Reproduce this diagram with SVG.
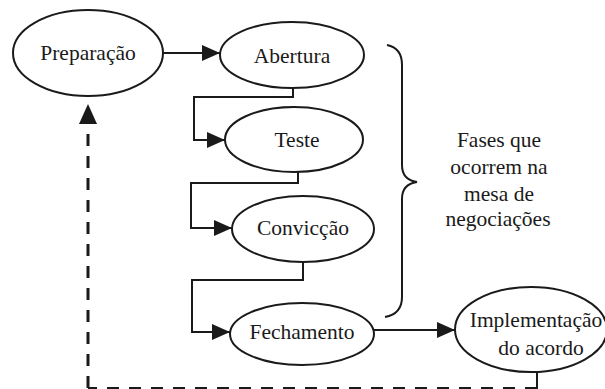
<svg xmlns="http://www.w3.org/2000/svg" width="605" height="389" viewBox="0 0 605 389">
  <style>
    .node ellipse { fill: #ffffff; stroke: #1a1a1a; stroke-width: 2; }
    .label { font-family: "Liberation Serif", "DejaVu Serif", "Times New Roman", serif; font-size: 21.5px; fill: #1a1a1a; text-anchor: middle; }
    .edge { fill: none; stroke: #1a1a1a; stroke-width: 2; }
    .dashed { fill: none; stroke: #1a1a1a; stroke-width: 3; stroke-dasharray: 12 10; }
  </style>
  <defs>
    <marker id="arrow" viewBox="0 0 18 16" refX="18" refY="8" markerWidth="18" markerHeight="16" markerUnits="userSpaceOnUse" orient="auto">
      <path d="M0,0 L18,8 L0,16 Z" fill="#1a1a1a"/>
    </marker>
  </defs>
  <rect width="605" height="389" fill="#ffffff"/>

  <g id="connectors">
    <path class="edge" d="M162,53 H220" marker-end="url(#arrow)"/>
    <path class="edge" d="M293,88 V97 H194 V140 H225" marker-end="url(#arrow)"/>
    <path class="edge" d="M298,172 V183 H191 V228 H232" marker-end="url(#arrow)"/>
    <path class="edge" d="M303,262 V280 H192 V332 H230" marker-end="url(#arrow)"/>
    <path class="edge" d="M374,330 H455" marker-end="url(#arrow)"/>
    <path class="edge" d="M537,372 V389"/>
    <path class="dashed" d="M537,388.5 H88"/>
    <path class="dashed" d="M88,388 V122"/>
    <path d="M88,104 L97,124 L79,124 Z" fill="#1a1a1a"/>
  </g>

  <g id="preparacao" class="node">
    <ellipse cx="88" cy="53" rx="75" ry="43"/>
    <text class="label" x="88" y="60">Preparação</text>
  </g>
  <g id="abertura" class="node">
    <ellipse cx="292" cy="55" rx="72" ry="33"/>
    <text class="label" x="292" y="63">Abertura</text>
  </g>
  <g id="teste" class="node">
    <ellipse cx="294" cy="139.5" rx="69" ry="32.5"/>
    <text class="label" x="297" y="147">Teste</text>
  </g>
  <g id="conviccao" class="node">
    <ellipse cx="303" cy="229" rx="71" ry="33"/>
    <text class="label" x="303" y="235">Convicção</text>
  </g>
  <g id="fechamento" class="node">
    <ellipse cx="302" cy="334" rx="72" ry="31"/>
    <text class="label" x="302" y="339">Fechamento</text>
  </g>
  <g id="implementacao" class="node">
    <ellipse cx="531" cy="329.5" rx="76" ry="42.5"/>
    <text class="label" x="536" y="327">Implementação</text>
    <text class="label" x="541" y="355">do acordo</text>
  </g>

  <g id="fases">
    <path class="edge" d="M387,45 Q402,48 402,65 V165 Q402,180 417,182 Q402,184 402,199 V297 Q402,314 385,317"/>
    <text class="label" x="499" y="147">Fases que</text>
    <text class="label" x="499" y="174">ocorrem na</text>
    <text class="label" x="499" y="201">mesa de</text>
    <text class="label" x="498" y="226">negociações</text>
  </g>
</svg>
